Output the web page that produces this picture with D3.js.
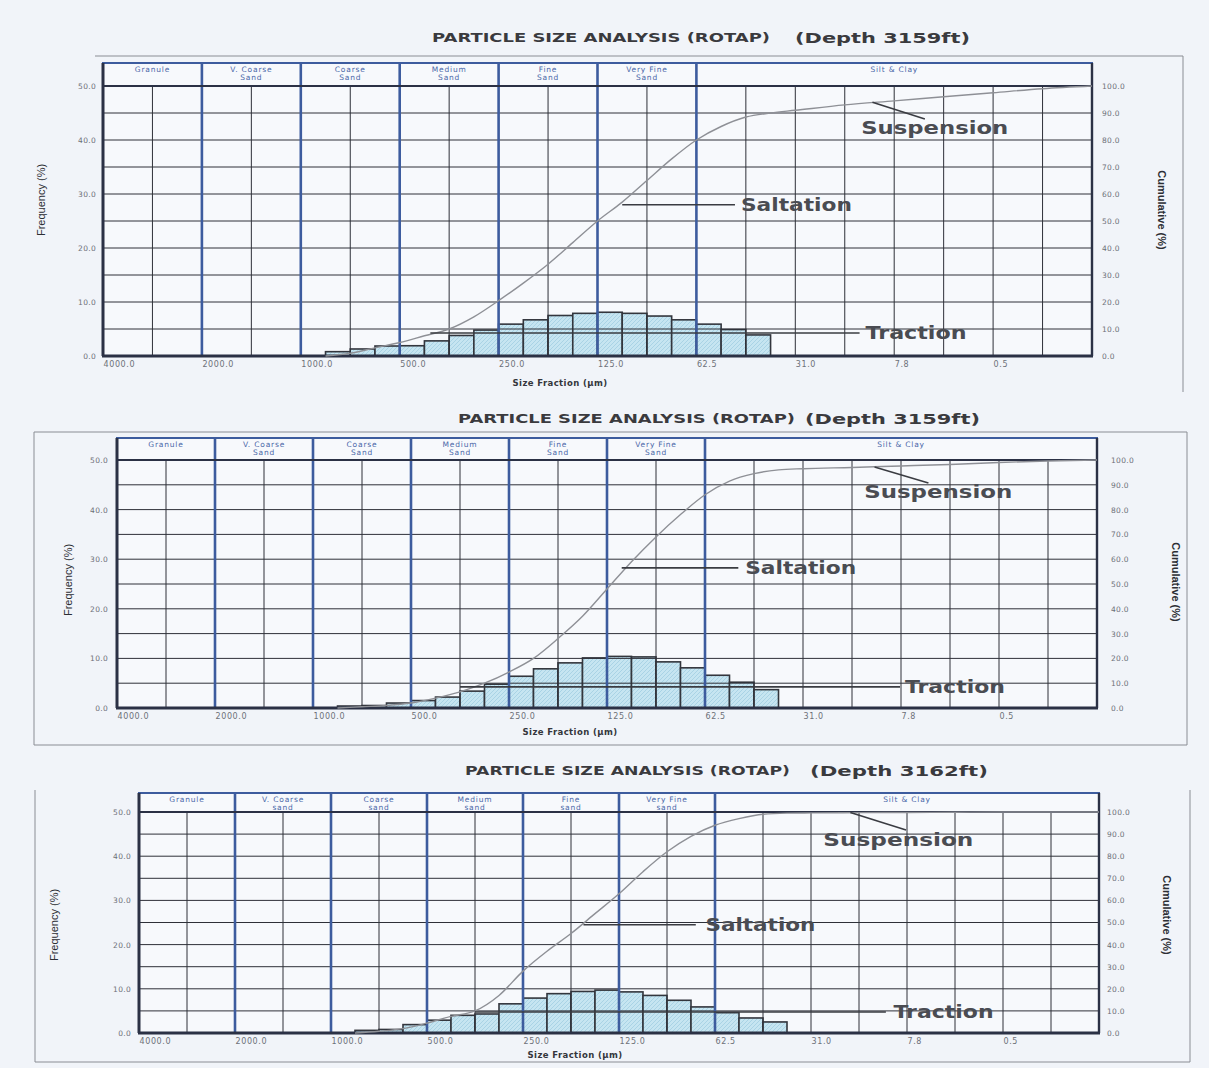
<!DOCTYPE html>
<html>
<head>
<meta charset="utf-8">
<script src="https://cdn.jsdelivr.net/npm/d3@7"></script>
<style>
  body { margin: 0; background: #f1f4f9; }
  svg { display: block; }
</style>
</head>
<body>
<svg id="chart" width="1209" height="1068"></svg>
<script>
// Sieve size scale (phi units, 4000 µm = -2) and its printed labels
const sizeTickPhi = [-2, -1, 0, 1, 2, 3, 4, 5, 6, 7];
const sizeTickLabels = ["4000.0", "2000.0", "1000.0", "500.0", "250.0", "125.0", "62.5", "31.0", "7.8", "0.5"];

// Wentworth classes across the top band
const classBounds = [-2, -1, 0, 1, 2, 3, 4, 8];
const classNamesA = [["Granule"], ["V. Coarse", "Sand"], ["Coarse", "Sand"], ["Medium", "Sand"], ["Fine", "Sand"], ["Very Fine", "Sand"], ["Silt & Clay"]];
const classNamesB = [["Granule"], ["V. Coarse", "sand"], ["Coarse", "sand"], ["Medium", "sand"], ["Fine", "sand"], ["Very Fine", "sand"], ["Silt & Clay"]];

const freqTicks = [0, 10, 20, 30, 40, 50];
const cumTicks = [0, 10, 20, 30, 40, 50, 60, 70, 80, 90, 100];

// Quarter-phi sieve bins (start of each bin, phi)
const binStartPhi = [0.25, 0.5, 0.75, 1, 1.25, 1.5, 1.75, 2, 2.25, 2.5, 2.75, 3, 3.25, 3.5, 3.75, 4, 4.25, 4.5];
const binWidthPhi = 0.25;

// Frequency (%) retained per bin
const freq3159a = [0.8, 1.3, 1.85, 1.9, 2.8, 3.8, 4.8, 5.9, 6.7, 7.5, 7.9, 8.1, 7.9, 7.4, 6.7, 5.9, 4.9, 3.9];
const freq3159b = [0.4, 0.5, 1.0, 1.5, 2.2, 3.4, 4.8, 6.4, 7.9, 9.1, 10.1, 10.4, 10.3, 9.3, 8.1, 6.6, 5.2, 3.7];
const freq3162  = [0.6, 0.8, 1.9, 2.9, 4.0, 4.3, 6.6, 7.9, 8.9, 9.4, 9.7, 9.3, 8.5, 7.4, 5.9, 4.6, 3.4, 2.5];

// Cumulative curve (%) sampled at these phi positions
const cumPhi = [0.25, 0.5, 0.75, 1, 1.25, 1.5, 1.75, 2, 2.25, 2.5, 2.75, 3, 3.25, 3.5, 3.75, 4, 4.25, 4.5, 4.75, 5, 5.5, 6, 6.5, 7, 7.5, 8];
const cum3159a = [0, 1, 3, 5, 7.5, 10, 14.5, 20.5, 27, 34, 42, 50, 57, 65, 73, 80, 85, 88.5, 90, 91, 93, 94.5, 96, 97.5, 99, 100];
const cum3159b = [0, 0.5, 1, 2, 4, 6.5, 10, 14.5, 20, 28, 37, 48, 59, 69, 78, 86, 91.5, 94.5, 96, 96.5, 97, 97.6, 98.2, 99, 99.6, 100];
const cum3162  = [0, 0.8, 2, 4.5, 7.5, 10, 17, 28, 37, 45, 54, 63, 73, 82, 89, 94, 97, 99, 99.5, 99.6, 99.7, 99.8, 99.9, 100, 100, 100];

// Transport-mode callouts: [label, fromPhi, fromCum, toPhi, toCum, labelPhi, labelCum, anchor, width]
const notes3159a = [
  ["Suspension", 5.78, 94, 6.31, 87.8, 6.41, 84.4, "middle", 147],
  ["Saltation", 3.25, 56, 4.39, 56, 4.45, 56, "start", 111],
  ["Traction", 1.31, 8.5, 5.65, 8.5, 5.71, 8.5, "start", 101]
];
const notes3159b = [
  ["Suspension", 5.73, 97.2, 6.28, 90.7, 6.38, 87, "middle", 148],
  ["Saltation", 3.15, 56.5, 4.34, 56.5, 4.41, 56.5, "start", 111],
  ["Traction", 1.5, 8.5, 5.99, 8.5, 6.04, 8.5, "start", 100]
];
const notes3162 = [
  ["Suspension", 5.41, 99.8, 5.99, 91.9, 5.91, 87.3, "middle", 150],
  ["Saltation", 2.63, 49, 3.8, 49, 3.9, 49, "start", 110],
  ["Traction", 1.5, 9.5, 5.78, 9.5, 5.86, 9.5, "start", 100]
];

const panels = [
  { depth: "(Depth 3159ft)", freq: freq3159a, cum: cum3159a, notes: notes3159a, classes: classNamesA,
    left: 103, right: 1092, top: 86, bottom: 356, band: 63,
    titleY: 42, titleX1: 432, titleW1: 338, titleX2: 795, titleW2: 175, leftPad: 7, rightPad: 10,
    yTitleX: 45, yTitleY: 200, cTitleX: 1158, cTitleY: 210, xTitleY: 386, xTitleX: 560,
    frame: "M 95 56 H 1183 V 392" },
  { depth: "(Depth 3159ft)", freq: freq3159b, cum: cum3159b, notes: notes3159b, classes: classNamesA,
    left: 117, right: 1097, top: 460, bottom: 708, band: 438,
    titleY: 423, titleX1: 458, titleW1: 337, titleX2: 805, titleW2: 175, leftPad: 9, rightPad: 14,
    yTitleX: 72, yTitleY: 580, cTitleX: 1172, cTitleY: 582, xTitleY: 735, xTitleX: 570,
    frame: "M 34 432 H 1187 V 745 H 34 Z" },
  { depth: "(Depth 3162ft)", freq: freq3162, cum: cum3162, notes: notes3162, classes: classNamesB,
    left: 139, right: 1099, top: 812, bottom: 1033, band: 793,
    titleY: 775, titleX1: 465, titleW1: 325, titleX2: 810, titleW2: 178, leftPad: 8, rightPad: 8,
    yTitleX: 58, yTitleY: 925, cTitleX: 1163, cTitleY: 915, xTitleY: 1058, xTitleX: 575,
    frame: "M 35 790 V 1062 H 1190 V 790" }
];

const svg = d3.select("#chart");
svg.append("rect").attr("width", 1209).attr("height", 1068).attr("fill", "#f1f4f9");

const defs = svg.append("defs");
const pat = defs.append("pattern").attr("id", "hatch").attr("patternUnits", "userSpaceOnUse")
  .attr("width", 4).attr("height", 4);
pat.append("rect").attr("width", 4).attr("height", 4).attr("fill", "#c6e5f1");
pat.append("path").attr("d", "M-1,1 l2,-2 M0,4 l4,-4 M3,5 l2,-2").attr("stroke", "#a2cee2").attr("stroke-width", 0.8);

const BLUE = "#3d5c9e";
const DARK = "#2b3145";
const TICK = "#6d7078";
const fmt = d3.format(".1f");

function drawPanel(p) {
  const g = svg.append("g");
  const x = d3.scaleLinear().domain([-2, 8]).range([p.left, p.right]);
  const yF = d3.scaleLinear().domain([0, 50]).range([p.bottom, p.top]);
  const yC = d3.scaleLinear().domain([0, 100]).range([p.bottom, p.top]);

  // outer frame of the sheet
  g.append("path").attr("d", p.frame).attr("fill", "none").attr("stroke", "#8a8d94").attr("stroke-width", 1);

  // title
  g.append("text").attr("x", p.titleX1).attr("y", p.titleY)
    .attr("font-family", "DejaVu Sans, sans-serif").attr("font-weight", "bold")
    .attr("font-size", 12.5).attr("fill", "#3a3a3e")
    .attr("textLength", p.titleW1).attr("lengthAdjust", "spacingAndGlyphs")
    .text("PARTICLE SIZE ANALYSIS (ROTAP)");
  g.append("text").attr("x", p.titleX2).attr("y", p.titleY + 0.5)
    .attr("font-family", "DejaVu Sans, sans-serif").attr("font-weight", "bold")
    .attr("font-size", 14.5).attr("fill", "#3a3a3e")
    .attr("textLength", p.titleW2).attr("lengthAdjust", "spacingAndGlyphs")
    .text(p.depth);

  // plot background
  g.append("rect").attr("x", p.left).attr("y", p.band).attr("width", p.right - p.left)
    .attr("height", p.bottom - p.band).attr("fill", "#f7f9fc");

  // histogram bars
  g.append("g").selectAll("rect").data(p.freq).join("rect")
    .attr("x", (d, i) => x(binStartPhi[i]))
    .attr("width", (d, i) => x(binStartPhi[i] + binWidthPhi) - x(binStartPhi[i]))
    .attr("y", d => yF(d))
    .attr("height", d => yF(0) - yF(d))
    .attr("fill", "url(#hatch)").attr("stroke", "#33363d").attr("stroke-width", 1.6);

  // horizontal grid every 5 %
  g.append("g").selectAll("line").data(d3.range(5, 50, 5)).join("line")
    .attr("x1", p.left).attr("x2", p.right).attr("y1", d => yF(d)).attr("y2", d => yF(d))
    .attr("stroke", "#2e3038").attr("stroke-width", 1);

  // half-phi vertical grid
  const halfPhi = d3.range(-1.5, 8, 0.5).filter(v => !(Number.isInteger(v) && v <= 4));
  g.append("g").selectAll("line").data(halfPhi).join("line")
    .attr("x1", d => x(d)).attr("x2", d => x(d)).attr("y1", p.top).attr("y2", p.bottom)
    .attr("stroke", "#2e3038").attr("stroke-width", 1);

  // class boundaries
  g.append("g").selectAll("line").data(classBounds.slice(1, -1)).join("line")
    .attr("x1", d => x(d)).attr("x2", d => x(d)).attr("y1", p.band).attr("y2", p.bottom)
    .attr("stroke", BLUE).attr("stroke-width", 2.6);

  // class band
  g.append("rect").attr("x", p.left).attr("y", p.band).attr("width", p.right - p.left)
    .attr("height", p.top - p.band).attr("fill", "none").attr("stroke", BLUE).attr("stroke-width", 2);
  const cls = g.append("g").selectAll("text").data(p.classes).join("text")
    .attr("x", (d, i) => (x(classBounds[i]) + x(classBounds[i + 1])) / 2)
    .attr("y", p.band + 9)
    .attr("text-anchor", "middle").attr("font-family", "DejaVu Sans, sans-serif")
    .attr("font-size", 7.5).attr("letter-spacing", 0.8).attr("fill", "#4a67a8");
  cls.selectAll("tspan").data(d => d).join("tspan")
    .attr("x", function () { return d3.select(this.parentNode).attr("x"); })
    .attr("dy", (d, i) => i === 0 ? 0 : 7.5)
    .text(d => d);

  // plot border
  g.append("line").attr("x1", p.left).attr("x2", p.right).attr("y1", p.top).attr("y2", p.top)
    .attr("stroke", DARK).attr("stroke-width", 2.2);
  g.append("line").attr("x1", p.left - 1).attr("x2", p.right + 1).attr("y1", p.bottom).attr("y2", p.bottom)
    .attr("stroke", DARK).attr("stroke-width", 2.8);
  g.append("line").attr("x1", p.left).attr("x2", p.left).attr("y1", p.band).attr("y2", p.bottom)
    .attr("stroke", DARK).attr("stroke-width", 3);
  g.append("line").attr("x1", p.right).attr("x2", p.right).attr("y1", p.band).attr("y2", p.bottom)
    .attr("stroke", DARK).attr("stroke-width", 2.4);

  // cumulative curve
  const line = d3.line().x((d, i) => x(cumPhi[i])).y(d => yC(d)).curve(d3.curveMonotoneX);
  g.append("path").datum(p.cum).attr("d", line)
    .attr("fill", "none").attr("stroke", "#8e9096").attr("stroke-width", 1.4);

  // callouts
  p.notes.forEach(n => {
    g.append("line").attr("x1", x(n[1])).attr("y1", yC(n[2])).attr("x2", x(n[3])).attr("y2", yC(n[4]))
      .attr("stroke", "#3a3c42").attr("stroke-width", 1.6);
    g.append("text").attr("x", x(n[5])).attr("y", yC(n[6])).attr("dy", "0.36em")
      .attr("text-anchor", n[7]).attr("font-family", "DejaVu Sans, sans-serif")
      .attr("font-weight", "bold").attr("font-size", 17)
      .attr("textLength", n[8]).attr("lengthAdjust", "spacingAndGlyphs")
      .attr("fill", "#4a4c52").text(n[0]);
  });

  // axes
  const styleAxis = (size, spacing) => sel => {
    sel.select(".domain").remove();
    sel.selectAll("line").remove();
    sel.selectAll("text").attr("font-family", "DejaVu Sans, sans-serif").attr("font-size", size)
      .attr("letter-spacing", spacing).attr("fill", TICK);
  };
  g.append("g").attr("transform", `translate(${p.left},0)`)
    .call(d3.axisLeft(yF).tickValues(freqTicks).tickFormat(fmt).tickSize(0).tickPadding(p.leftPad))
    .call(styleAxis(7.5, 0.3));
  g.append("g").attr("transform", `translate(${p.right},0)`)
    .call(d3.axisRight(yC).tickValues(cumTicks).tickFormat(fmt).tickSize(0).tickPadding(p.rightPad))
    .call(styleAxis(7.5, 0.3));
  g.append("g").attr("transform", `translate(0,${p.bottom})`)
    .call(d3.axisBottom(x).tickValues(sizeTickPhi).tickFormat((d, i) => sizeTickLabels[i]).tickSize(0).tickPadding(5))
    .call(styleAxis(8, 0.6))
    .call(s => s.selectAll("text").attr("text-anchor", "start").attr("dx", 0));

  // axis titles
  g.append("text").attr("transform", `translate(${p.yTitleX},${p.yTitleY}) rotate(-90)`)
    .attr("text-anchor", "middle").attr("font-family", "Liberation Sans Narrow, Liberation Sans, sans-serif")
    .attr("font-size", 11).attr("fill", "#2c2e34").text("Frequency (%)");
  g.append("text").attr("transform", `translate(${p.cTitleX},${p.cTitleY}) rotate(90)`)
    .attr("text-anchor", "middle").attr("font-family", "Liberation Sans Narrow, Liberation Sans, sans-serif")
    .attr("font-weight", "bold").attr("font-size", 11).attr("fill", "#2c2e34").text("Cumulative (%)");
  g.append("text").attr("x", p.xTitleX).attr("y", p.xTitleY).attr("text-anchor", "middle")
    .attr("font-family", "DejaVu Sans, sans-serif").attr("font-weight", "bold")
    .attr("font-size", 8.5).attr("letter-spacing", 0.4).attr("fill", "#34363c").text("Size Fraction (µm)");
}

panels.forEach(drawPanel);
</script>
</body>
</html>
